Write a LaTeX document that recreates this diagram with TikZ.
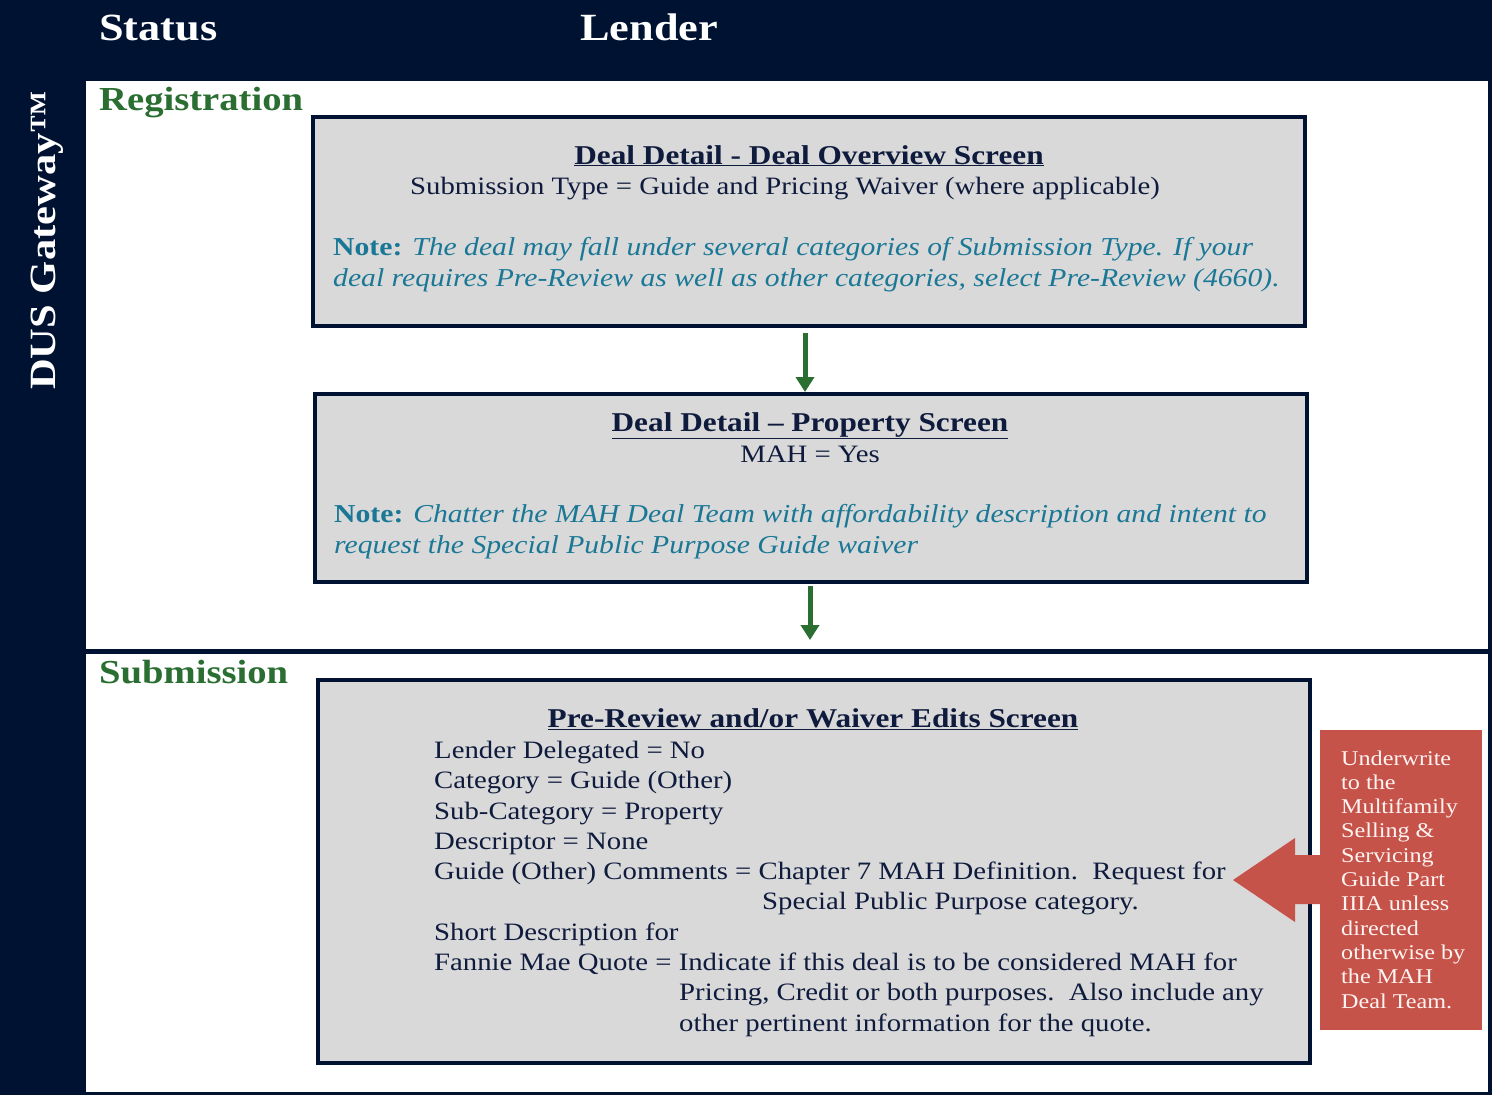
\documentclass[tikz,border=0pt]{standalone}
\usepackage{fontspec}
\setmainfont{Liberation Serif}[FakeStretch=1.15]
\usetikzlibrary{arrows.meta}
\definecolor{navy}{HTML}{001232}
\definecolor{ink}{HTML}{0F1B3D}
\definecolor{tealc}{HTML}{1A7896}
\definecolor{greenc}{HTML}{2A6E31}
\definecolor{boxgray}{HTML}{D9D9D9}
\definecolor{redc}{HTML}{C5534A}
\definecolor{redtext}{HTML}{FFF4F2}
\begin{document}
\begin{tikzpicture}[x=1pt,y=-1pt,
  txt/.style={anchor=base west, inner sep=0pt, text=ink, font=\fontsize{25}{30}\selectfont},
  ctxt/.style={txt, anchor=base},
  ttl/.style={ctxt, font=\fontsize{27.2}{30}\selectfont\bfseries},
  notetxt/.style={txt, text=tealc, font=\fontsize{25.8}{30}\selectfont},
  hdr/.style={anchor=base west, inner sep=0pt, text=white, font=\fontsize{38.5}{44}\selectfont\bfseries},
  sect/.style={anchor=base west, inner sep=0pt, text=greenc, font=\fontsize{33.6}{40}\selectfont\bfseries},
  screenbox/.style={draw=navy, line width=4pt, fill=boxgray, anchor=north west, inner sep=0pt, outer sep=0pt},
  garrow/.style={draw=greenc, line width=5pt, -{Triangle[width=18pt,length=15pt]}},
  redtxt/.style={anchor=base west, inner sep=0pt, text=redtext, font=\fontsize{21}{24}\selectfont}
]
\path[fill=navy] (0,0) rectangle (1492,1095);
\useasboundingbox (0,0) rectangle (1492,1095);
\fill[white] (86,81) rectangle (1488,649);
\fill[white] (86,654) rectangle (1488,1092);

% headers
\node[hdr] (status) at (99,40) {Status};
\node[hdr] (lender) at (580,40) {Lender};
\node[hdr, rotate=90, font=\fontsize{37}{40}\selectfont\bfseries] (dus) at (55,390) {DUS Gateway™};
\node[sect] (reg) at (99,110) {Registration};
\node[sect] (sub) at (99,683) {Submission};

% boxes
\node[screenbox, minimum width=992pt, minimum height=209pt] (box1) at (313,117) {};
\node[screenbox, minimum width=992pt, minimum height=188pt] (box2) at (315,394) {};
\node[screenbox, minimum width=992pt, minimum height=383pt] (box3) at (318,680) {};
\node[fill=redc, anchor=north west, inner sep=0pt, outer sep=0pt, minimum width=162pt, minimum height=300pt] (warn) at (1320,730) {};

% box1 text
\node[ttl] (t1a) at (809,164) {\underline{Deal Detail - Deal Overview Screen}};
\node[txt] (t1b) at (410,194) {Submission Type = Guide and Pricing Waiver (where applicable)};
\node[notetxt] (t1c) at (333,255) {\textbf{Note:} \itshape The deal may fall under several categories of Submission Type. If your};
\node[notetxt] (t1d) at (333,286) {\itshape deal requires Pre-Review as well as other categories, select Pre-Review (4660).};

% box2 text
\node[ttl] (t2a) at (810,431) {\underline{Deal Detail – Property Screen}};
\node[ctxt] (t2b) at (810,462) {MAH = Yes};
\node[notetxt] (t2c) at (334,522) {\textbf{Note:} \itshape Chatter the MAH Deal Team with affordability description and intent to};
\node[notetxt] (t2d) at (334,553) {\itshape request the Special Public Purpose Guide waiver};

% box3 text
\node[ttl] (t3a) at (813,727) {\underline{Pre-Review and/or Waiver Edits Screen}};
\node[txt] (t3b) at (434,758) {Lender Delegated = No};
\node[txt] (t3c) at (434,788) {Category = Guide (Other)};
\node[txt] (t3d) at (434,819) {Sub-Category = Property};
\node[txt] (t3e) at (434,849) {Descriptor = None};
\node[txt] (t3f) at (434,879) {Guide (Other) Comments = Chapter 7 MAH Definition.\ \ Request for};
\node[txt] (t3g) at (762,909) {Special Public Purpose category.};
\node[txt] (t3h) at (434,940) {Short Description for};
\node[txt] (t3i) at (434,970) {Fannie Mae Quote = Indicate if this deal is to be considered MAH for};
\node[txt] (t3j) at (679,1000) {Pricing, Credit or both purposes.\ \ Also include any};
\node[txt] (t3k) at (679,1031) {other pertinent information for the quote.};

% red box text
\foreach \l [count=\i from 0] in {Underwrite,to the,Multifamily,Selling \&,Servicing,Guide Part,IIIA unless,directed,otherwise by,the MAH,Deal Team.}{
  \node[redtxt] (r\i) at (1341,765+24.3*\i) {\l};
}

% red block arrow
\fill[redc] (1233,880) -- (1295,838) -- (1295,855) -- (1322,855) -- (1322,904) -- (1295,904) -- (1295,922) -- cycle;

% green arrows
\coordinate (c1) at (805,0);
\coordinate (c2) at (810,0);
\coordinate (a2end) at (810,640);
\draw[garrow, shorten <=7pt, shorten >=2pt] (box1.south -| c1) -- (box2.north -| c1);
\draw[garrow, shorten <=4pt] (box2.south -| c2) -- (a2end);
\end{tikzpicture}
\end{document}
